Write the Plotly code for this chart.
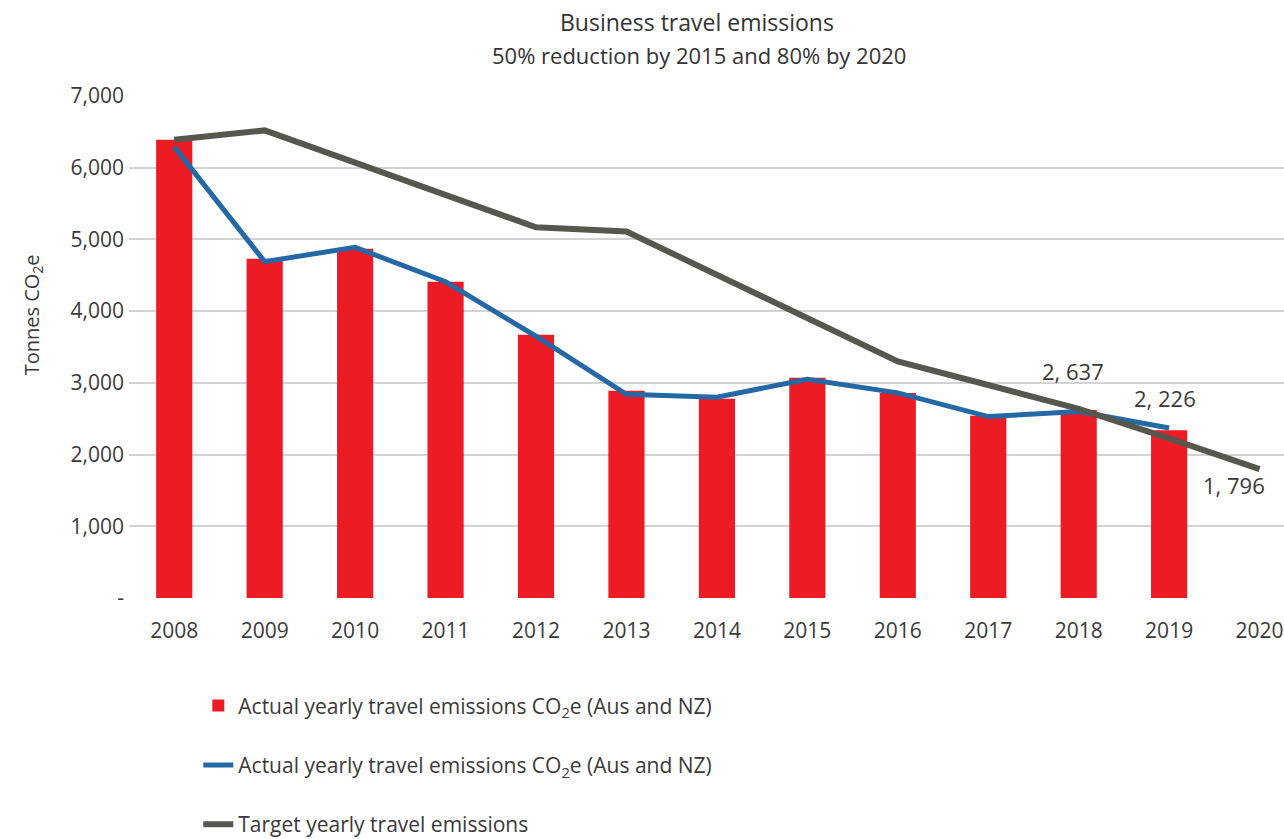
import plotly.graph_objects as go

years = ["2008", "2009", "2010", "2011", "2012", "2013", "2014",
         "2015", "2016", "2017", "2018", "2019", "2020"]
actual_bars = [6390, 4730, 4870, 4410, 3670, 2890, 2780, 3070, 2860, 2540, 2620, 2340, None]
actual_line = [6290, 4690, 4890, 4410, 3650, 2840, 2800, 3050, 2860, 2530, 2600, 2370, None]
target_line = [6390, 6520, 6070, 5620, 5170, 5110, 4510, 3900, 3300, 2970, 2637, 2226, 1796]
labelled_years = ["2018", "2019", "2020"]

y_ticks = [0, 1000, 2000, 3000, 4000, 5000, 6000, 7000]
y_ticktext = ["-", "1,000", "2,000", "3,000", "4,000", "5,000", "6,000", "7,000"]

FONT = "Open Sans"
TXT = "#3a3a3a"
RED = "#ED1C24"
BLUE = "#2468A6"
GREY = "#57574F"

legend_name = "Actual yearly travel emissions CO<sub>2</sub>e (Aus and NZ)"

fig = go.Figure()
fig.add_trace(go.Bar(
    x=years, y=actual_bars, name=legend_name, marker=dict(color=RED, line=dict(width=0)),
    legendgroup="a", width=0.4,
))
fig.add_trace(go.Scatter(
    x=years, y=actual_line, name=legend_name, mode="lines",
    line=dict(color=BLUE, width=5), legendgroup="b",
))
fig.add_trace(go.Scatter(
    x=years, y=target_line, name="Target yearly travel emissions", mode="lines",
    line=dict(color=GREY, width=6), legendgroup="c",
))

shifts = {"2018": 38, "2019": 40, "2020": -16}
xshift = {"2018": -6, "2019": -4, "2020": -26}
for yr in labelled_years:
    i = years.index(yr)
    v = target_line[i]
    txt = f"{v:,}".replace(",", ", ")
    fig.add_annotation(x=i, y=v, xref="x", yref="y", text=txt, showarrow=False,
                       yshift=shifts[yr], xshift=xshift[yr],
                       font=dict(family=FONT, size=22, color=TXT))

# title and subtitle
fig.add_annotation(x=0.4918, y=1.147, xref="paper", yref="paper", showarrow=False,
                   text="Business travel emissions", xanchor="center", yanchor="middle",
                   font=dict(family=FONT, size=23, color="#333333"))
fig.add_annotation(x=0.4935, y=1.082, xref="paper", yref="paper", showarrow=False,
                   text="50% reduction by 2015 and 80% by 2020", xanchor="center", yanchor="middle",
                   font=dict(family=FONT, size=22, color="#333333"))
# y-axis title
fig.add_annotation(x=-0.084, y=0.565, xref="paper", yref="paper", showarrow=False,
                   text="Tonnes CO<sub>2</sub>e", textangle=-90,
                   xanchor="center", yanchor="middle",
                   font=dict(family=FONT, size=20, color=TXT))

fig.update_layout(
    width=1284, height=839,
    margin=dict(l=129, r=0, t=96, b=241, autoexpand=False),
    paper_bgcolor="white", plot_bgcolor="white",
    font=dict(family=FONT, color=TXT, size=21),
    showlegend=True,
    legend=dict(
        orientation="v", x=0.06, xanchor="left",
        yref="container", y=0.183, yanchor="top",
        traceorder="grouped", tracegroupgap=29,
        font=dict(family=FONT, size=21, color=TXT),
        bgcolor="rgba(0,0,0,0)",
    ),
    bargap=0.6,
)
fig.update_xaxes(
    type="category", range=[-0.5, 12.27], showgrid=False, zeroline=False,
    showline=False, ticks="", tickfont=dict(family=FONT, size=21, color=TXT),
    ticklabelstandoff=18,
)
fig.update_yaxes(
    range=[0, 7000], tickvals=y_ticks, ticktext=y_ticktext,
    showgrid=True, gridcolor="#D3D3D3", gridwidth=2, zeroline=False,
    showline=False, ticks="", tickfont=dict(family=FONT, size=21, color=TXT),
    ticklabelstandoff=4,
)

fig.write_html("out.html")
